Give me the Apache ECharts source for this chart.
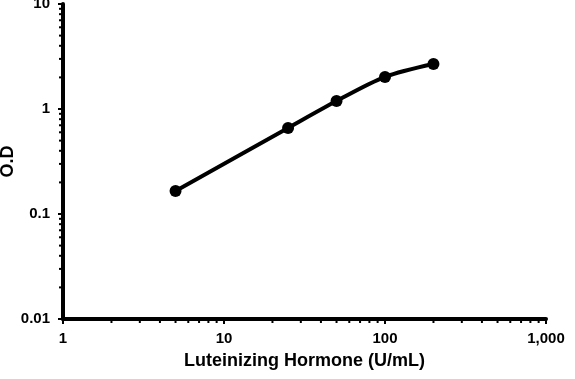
<!DOCTYPE html>
<html><head><meta charset="utf-8">
<script src="https://cdn.jsdelivr.net/npm/echarts@6/dist/echarts.min.js"></script>
<style>html,body{margin:0;padding:0;background:#fff}#c{width:575px;height:379px}</style>
</head><body><div id="c"></div>
<script>
const concentrations = [5, 25, 50, 100, 200];
const odValues = [0.166, 0.66, 1.19, 2.02, 2.68];
const xMinorTicks = [2,3,4,5,6,7,8,9,20,30,40,50,60,70,80,90,200,300,400,500,600,700,800,900];
const yMinorTicks = [0.02,0.03,0.04,0.05,0.06,0.07,0.08,0.09,0.2,0.3,0.4,0.5,0.6,0.7,0.8,0.9,2,3,4,5,6,7,8,9];
const xTitle = 'Luteinizing Hormone (U/mL)';
const yTitle = 'O.D';

const chart = echarts.init(document.getElementById('c'));
const font = 'Liberation Sans, Arial, sans-serif';
function fmtX(v){ return v >= 1000 ? '1,000' : String(v); }
function fmtY(v){ return String(+v.toPrecision(3)); }
chart.setOption({
  animation: false,
  grid: {left: 63, right: 29, top: 4, bottom: 60, containLabel: false, outerBoundsMode: 'none'},
  xAxis: {
    type: 'log', logBase: 10, min: 1, max: 1000,
    name: xTitle, nameLocation: 'middle', nameGap: 33, nameMoveOverlap: false,
    nameTextStyle: {fontFamily: font, fontWeight: 'bold', fontSize: 18, color: '#000'},
    axisLine: {lineStyle: {color: '#000', width: 4}},
    axisTick: {show: true, length: 5, lineStyle: {color: '#000', width: 2}},
    axisLabel: {fontFamily: font, fontWeight: 'bold', fontSize: 15, color: '#000', margin: 12, formatter: fmtX},
    splitLine: {show: false}
  },
  yAxis: {
    type: 'log', logBase: 10, min: 0.01, max: 10,
    name: yTitle, nameLocation: 'middle', nameGap: 55, nameMoveOverlap: false,
    nameTextStyle: {fontFamily: font, fontWeight: 'bold', fontSize: 18, color: '#000', verticalAlign: 'middle'},
    axisLine: {lineStyle: {color: '#000', width: 4}},
    axisTick: {show: true, length: 5, lineStyle: {color: '#000', width: 2}},
    axisLabel: {fontFamily: font, fontWeight: 'bold', fontSize: 15, color: '#000', margin: 13, formatter: fmtY},
    splitLine: {show: false}
  },
  series: [
    {
      type: 'line', data: concentrations.map((x,i)=>[x, odValues[i]]),
      smooth: 0.3, symbol: 'circle', symbolSize: 12,
      lineStyle: {color: '#000', width: 4}, itemStyle: {color: '#000'}, z: 5
    },
    {
      type: 'custom', silent: true, z: 3,
      data: xMinorTicks.map(v=>[v, 0.01]),
      renderItem: function(params, api){
        const p = api.coord([api.value(0), api.value(1)]);
        return {type:'line', shape:{x1:p[0], y1:p[1], x2:p[0], y2:p[1]+4}, style:{stroke:'#000', lineWidth:2}};
      }
    },
    {
      type: 'custom', silent: true, z: 3,
      data: yMinorTicks.map(v=>[1, v]),
      renderItem: function(params, api){
        const p = api.coord([api.value(0), api.value(1)]);
        return {type:'line', shape:{x1:p[0], y1:p[1], x2:p[0]-4, y2:p[1]}, style:{stroke:'#000', lineWidth:2}};
      }
    }
  ]
});
</script></body></html>
